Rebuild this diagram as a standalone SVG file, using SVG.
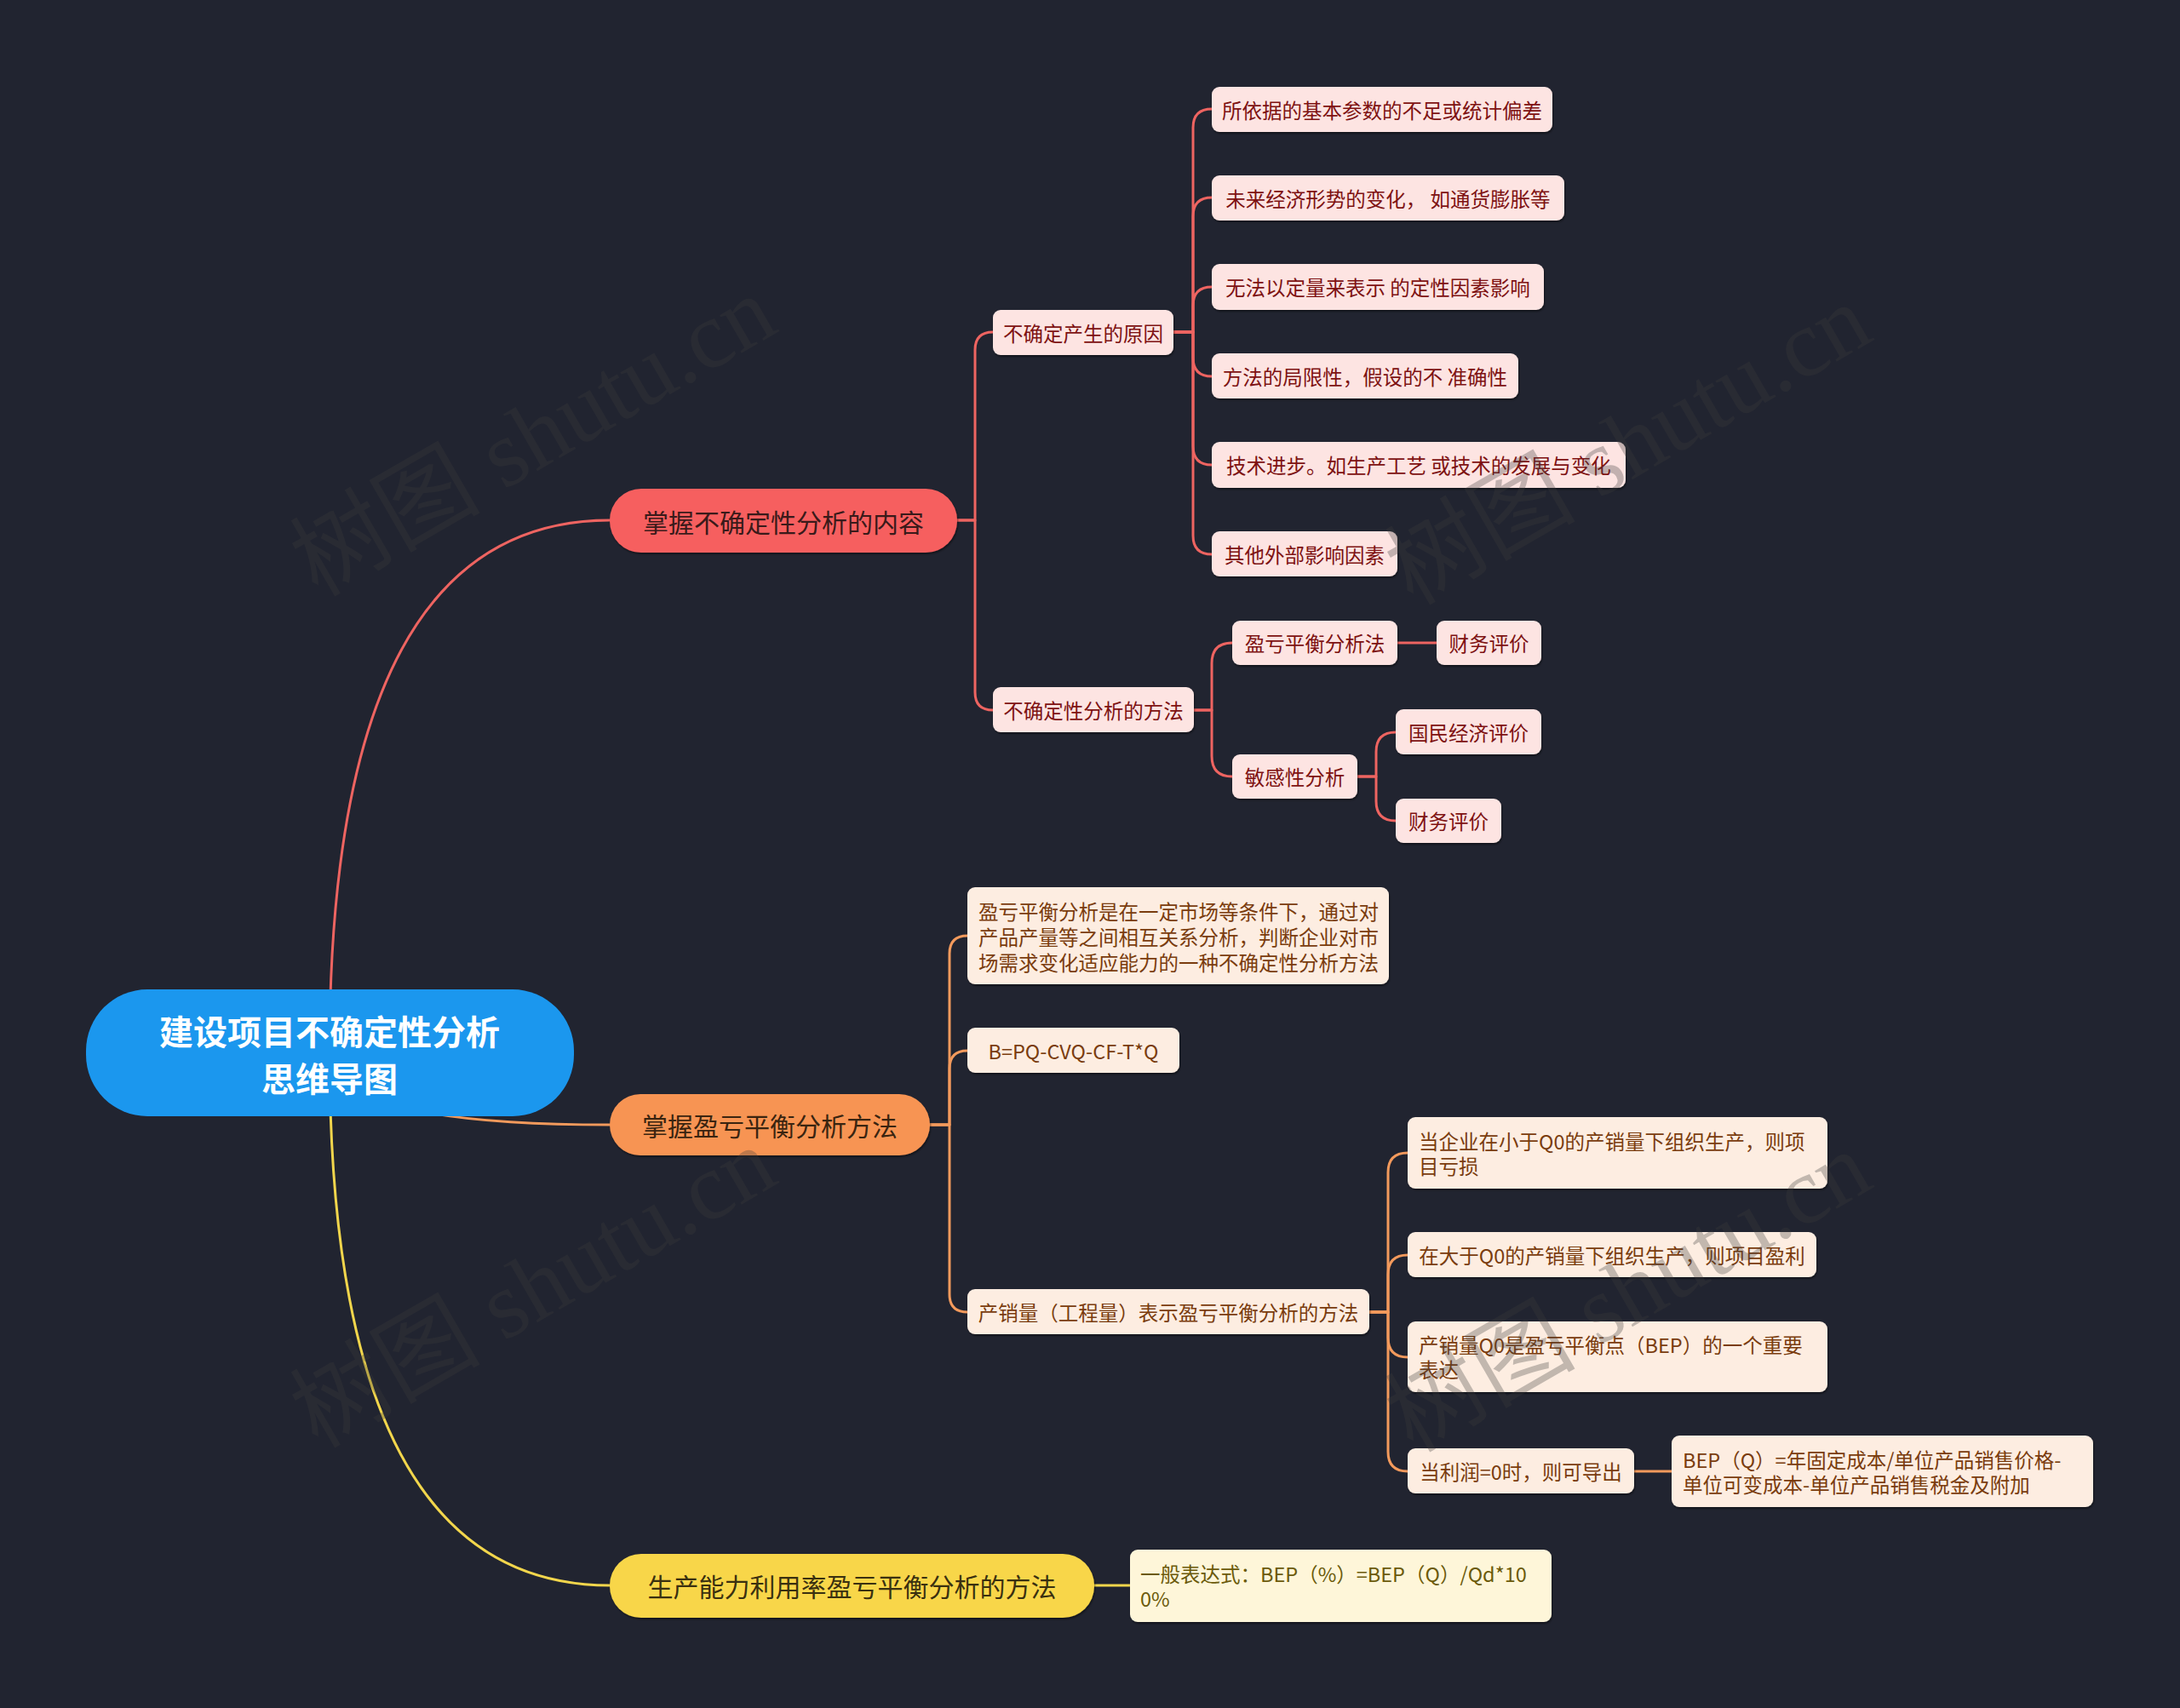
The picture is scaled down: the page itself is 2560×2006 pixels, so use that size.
<svg xmlns="http://www.w3.org/2000/svg" width="2560" height="2006" viewBox="0 0 2560 2006">
<defs>
<filter id="sh" x="-5%" y="-10%" width="110%" height="130%"><feDropShadow dx="1" dy="2" stdDeviation="1" flood-color="#000" flood-opacity="0.45"/></filter>
<style>
text{font-family:"Noto Sans CJK SC","Microsoft YaHei",sans-serif;}
.c{fill:none;stroke-width:3;stroke-linecap:round;stroke-linejoin:round;}
.cr{stroke:#EE6461;}
.co{stroke:#F39A5C;}
.cy{stroke:#F2D64C;}
.l1{font-size:30px;text-anchor:middle;dominant-baseline:central;}
.lf{font-size:23.5px;dominant-baseline:central;}
.m{text-anchor:middle;}
.pr{fill:#FDE4E2;filter:url(#sh);}
.po{fill:#FDEDE1;filter:url(#sh);}
.py{fill:#FEF6D9;filter:url(#sh);}
.tr{fill:#7E1212;}
.to{fill:#7A3C0E;}
.ty{fill:#6B5A0A;}
.wm{font-family:"Liberation Serif","Noto Sans CJK SC",serif;font-size:112px;fill:#3c3c3c;opacity:0.3;text-anchor:middle;}
</style>
</defs>
<rect width="2560" height="2006" fill="#212430"/>

<g id="connectors">
<path class="c cr" d="M387,1236 Q387,611 716,611"/>
<path class="c co" d="M387,1236 Q387,1321 716,1321"/>
<path class="c cy" d="M387,1236 Q387,1862 716,1862"/>

<path class="c cr" d="M1124,611 H1145 V411 Q1145,390 1166,390"/>
<path class="c cr" d="M1124,611 H1145 V813 Q1145,834 1166,834"/>

<path class="c cr" d="M1378,390 H1401 V150 Q1401,128 1423,128"/>
<path class="c cr" d="M1378,390 H1401 V254 Q1401,232 1423,232"/>
<path class="c cr" d="M1378,390 H1401 V359 Q1401,337 1423,337"/>
<path class="c cr" d="M1378,390 H1401 V420 Q1401,442 1423,442"/>
<path class="c cr" d="M1378,390 H1401 V524 Q1401,546 1423,546"/>
<path class="c cr" d="M1378,390 H1401 V629 Q1401,651 1423,651"/>

<path class="c cr" d="M1402,834 H1423 V779 Q1423,755 1447,755"/>
<path class="c cr" d="M1402,834 H1423 V888 Q1423,912 1447,912"/>
<path class="c cr" d="M1641,755 H1687"/>
<path class="c cr" d="M1594,912 H1616 V883 Q1616,860 1639,860"/>
<path class="c cr" d="M1594,912 H1616 V941 Q1616,964 1639,964"/>

<path class="c co" d="M1092,1321 H1115 V1120 Q1115,1099 1136,1099"/>
<path class="c co" d="M1092,1321 H1115 V1255 Q1115,1234 1136,1234"/>
<path class="c co" d="M1092,1321 H1115 V1520 Q1115,1541 1136,1541"/>

<path class="c co" d="M1608,1541 H1630 V1377 Q1630,1354 1653,1354"/>
<path class="c co" d="M1608,1541 H1630 V1497 Q1630,1474 1653,1474"/>
<path class="c co" d="M1608,1541 H1630 V1571 Q1630,1594 1653,1594"/>
<path class="c co" d="M1608,1541 H1630 V1705 Q1630,1728 1653,1728"/>
<path class="c co" d="M1919,1728 H1963"/>

<path class="c cy" d="M1285,1862 H1327"/>
</g>

<g id="root">
<rect x="101" y="1162" width="573" height="149" rx="72" fill="#1B97EE"/>
<text x="387" y="1210" font-size="40" font-weight="bold" fill="#FFFFFF" text-anchor="middle" dominant-baseline="central">建设项目不确定性分析</text>
<text x="387" y="1265" font-size="40" font-weight="bold" fill="#FFFFFF" text-anchor="middle" dominant-baseline="central">思维导图</text>
</g>

<g id="n1">
<rect x="716" y="574" width="408" height="75" rx="37" fill="#F65F5E" filter="url(#sh)"/>
<text class="l1" x="920" y="611.5" fill="#3A1A1A">掌握不确定性分析的内容</text>
</g>
<g id="n2">
<rect x="716" y="1285" width="376" height="72" rx="36" fill="#F79453" filter="url(#sh)"/>
<text class="l1" x="904" y="1321" fill="#3A2410">掌握盈亏平衡分析方法</text>
</g>
<g id="n3">
<rect x="716" y="1825" width="569" height="75" rx="37" fill="#F8D648" filter="url(#sh)"/>
<text class="l1" x="1000.5" y="1862" fill="#3A3010">生产能力利用率盈亏平衡分析的方法</text>
</g>

<g id="n1-1">
<rect class="pr" x="1166" y="364" width="212" height="53" rx="9"/>
<text class="lf tr m" x="1272" y="390.5">不确定产生的原因</text>
</g>
<g id="n1-2">
<rect class="pr" x="1166" y="807" width="236" height="53" rx="9"/>
<text class="lf tr m" x="1284" y="833.5">不确定性分析的方法</text>
</g>
<g id="n1-1-1">
<rect class="pr" x="1423" y="102" width="400" height="53" rx="9"/>
<text class="lf tr m" x="1623" y="128.5">所依据的基本参数的不足或统计偏差</text>
</g>
<g id="n1-1-2">
<rect class="pr" x="1423" y="206" width="414" height="53" rx="9"/>
<text class="lf tr m" x="1630" y="232.5">未来经济形势的变化， 如通货膨胀等</text>
</g>
<g id="n1-1-3">
<rect class="pr" x="1423" y="310" width="390" height="54" rx="9"/>
<text class="lf tr m" x="1618" y="337">无法以定量来表示 的定性因素影响</text>
</g>
<g id="n1-1-4">
<rect class="pr" x="1423" y="415" width="360" height="53" rx="9"/>
<text class="lf tr m" x="1603" y="441.5">方法的局限性，假设的不 准确性</text>
</g>
<g id="n1-1-5">
<rect class="pr" x="1423" y="519" width="486" height="54" rx="9"/>
<text class="lf tr m" x="1666" y="546">技术进步。如生产工艺 或技术的发展与变化</text>
</g>
<g id="n1-1-6">
<rect class="pr" x="1423" y="624" width="218" height="53" rx="9"/>
<text class="lf tr m" x="1532" y="650.5">其他外部影响因素</text>
</g>
<g id="n1-2-1">
<rect class="pr" x="1447" y="729" width="194" height="52" rx="9"/>
<text class="lf tr m" x="1544" y="755">盈亏平衡分析法</text>
</g>
<g id="n1-2-1-1">
<rect class="pr" x="1687" y="729" width="123" height="52" rx="9"/>
<text class="lf tr m" x="1748.5" y="755">财务评价</text>
</g>
<g id="n1-2-2">
<rect class="pr" x="1447" y="886" width="147" height="52" rx="9"/>
<text class="lf tr m" x="1520.5" y="912">敏感性分析</text>
</g>
<g id="n1-2-2-1">
<rect class="pr" x="1639" y="833" width="171" height="53" rx="9"/>
<text class="lf tr m" x="1724.5" y="859.5">国民经济评价</text>
</g>
<g id="n1-2-2-2">
<rect class="pr" x="1639" y="938" width="124" height="52" rx="9"/>
<text class="lf tr m" x="1701" y="964">财务评价</text>
</g>

<g id="n2-1">
<rect class="po" x="1136" y="1042" width="495" height="114" rx="9"/>
<text class="lf to" x="1149" y="1070">盈亏平衡分析是在一定市场等条件下，通过对</text>
<text class="lf to" x="1149" y="1100">产品产量等之间相互关系分析，判断企业对市</text>
<text class="lf to" x="1149" y="1130">场需求变化适应能力的一种不确定性分析方法</text>
</g>
<g id="n2-2">
<rect class="po" x="1136" y="1207" width="249" height="53" rx="9"/>
<text class="lf to m" x="1260.5" y="1233.5">B=PQ-CVQ-CF-T*Q</text>
</g>
<g id="n2-3">
<rect class="po" x="1136" y="1514" width="472" height="53" rx="9"/>
<text class="lf to m" x="1372" y="1540.5">产销量（工程量）表示盈亏平衡分析的方法</text>
</g>
<g id="n2-3-1">
<rect class="po" x="1653" y="1312" width="493" height="84" rx="9"/>
<text class="lf to" x="1666" y="1340">当企业在小于Q0的产销量下组织生产，则项</text>
<text class="lf to" x="1666" y="1369">目亏损</text>
</g>
<g id="n2-3-2">
<rect class="po" x="1653" y="1447" width="480" height="53" rx="9"/>
<text class="lf to m" x="1893" y="1473.5">在大于Q0的产销量下组织生产，则项目盈利</text>
</g>
<g id="n2-3-3">
<rect class="po" x="1653" y="1552" width="493" height="83" rx="9"/>
<text class="lf to" x="1666" y="1579">产销量Q0是盈亏平衡点（BEP）的一个重要</text>
<text class="lf to" x="1666" y="1608">表达</text>
</g>
<g id="n2-3-4">
<rect class="po" x="1653" y="1701" width="266" height="53" rx="9"/>
<text class="lf to m" x="1786" y="1727.5">当利润=0时，则可导出</text>
</g>
<g id="n2-3-4-1">
<rect class="po" x="1963" y="1686" width="495" height="84" rx="9"/>
<text class="lf to" x="1976" y="1714">BEP（Q）=年固定成本/单位产品销售价格-</text>
<text class="lf to" x="1976" y="1743">单位可变成本-单位产品销售税金及附加</text>
</g>

<g id="n3-1">
<rect class="py" x="1327" y="1820" width="495" height="85" rx="9"/>
<text class="lf ty" x="1339" y="1848">一般表达式：BEP（%）=BEP（Q）/Qd*10</text>
<text class="lf ty" x="1339" y="1877">0%</text>
</g>

<g id="watermarks">
<text class="wm" transform="translate(645,545) rotate(-30)">树图 shutu.cn</text>
<text class="wm" transform="translate(1931,555) rotate(-30)">树图 shutu.cn</text>
<text class="wm" transform="translate(645,1545) rotate(-30)">树图 shutu.cn</text>
<text class="wm" transform="translate(1931,1550) rotate(-30)">树图 shutu.cn</text>
</g>
</svg>
